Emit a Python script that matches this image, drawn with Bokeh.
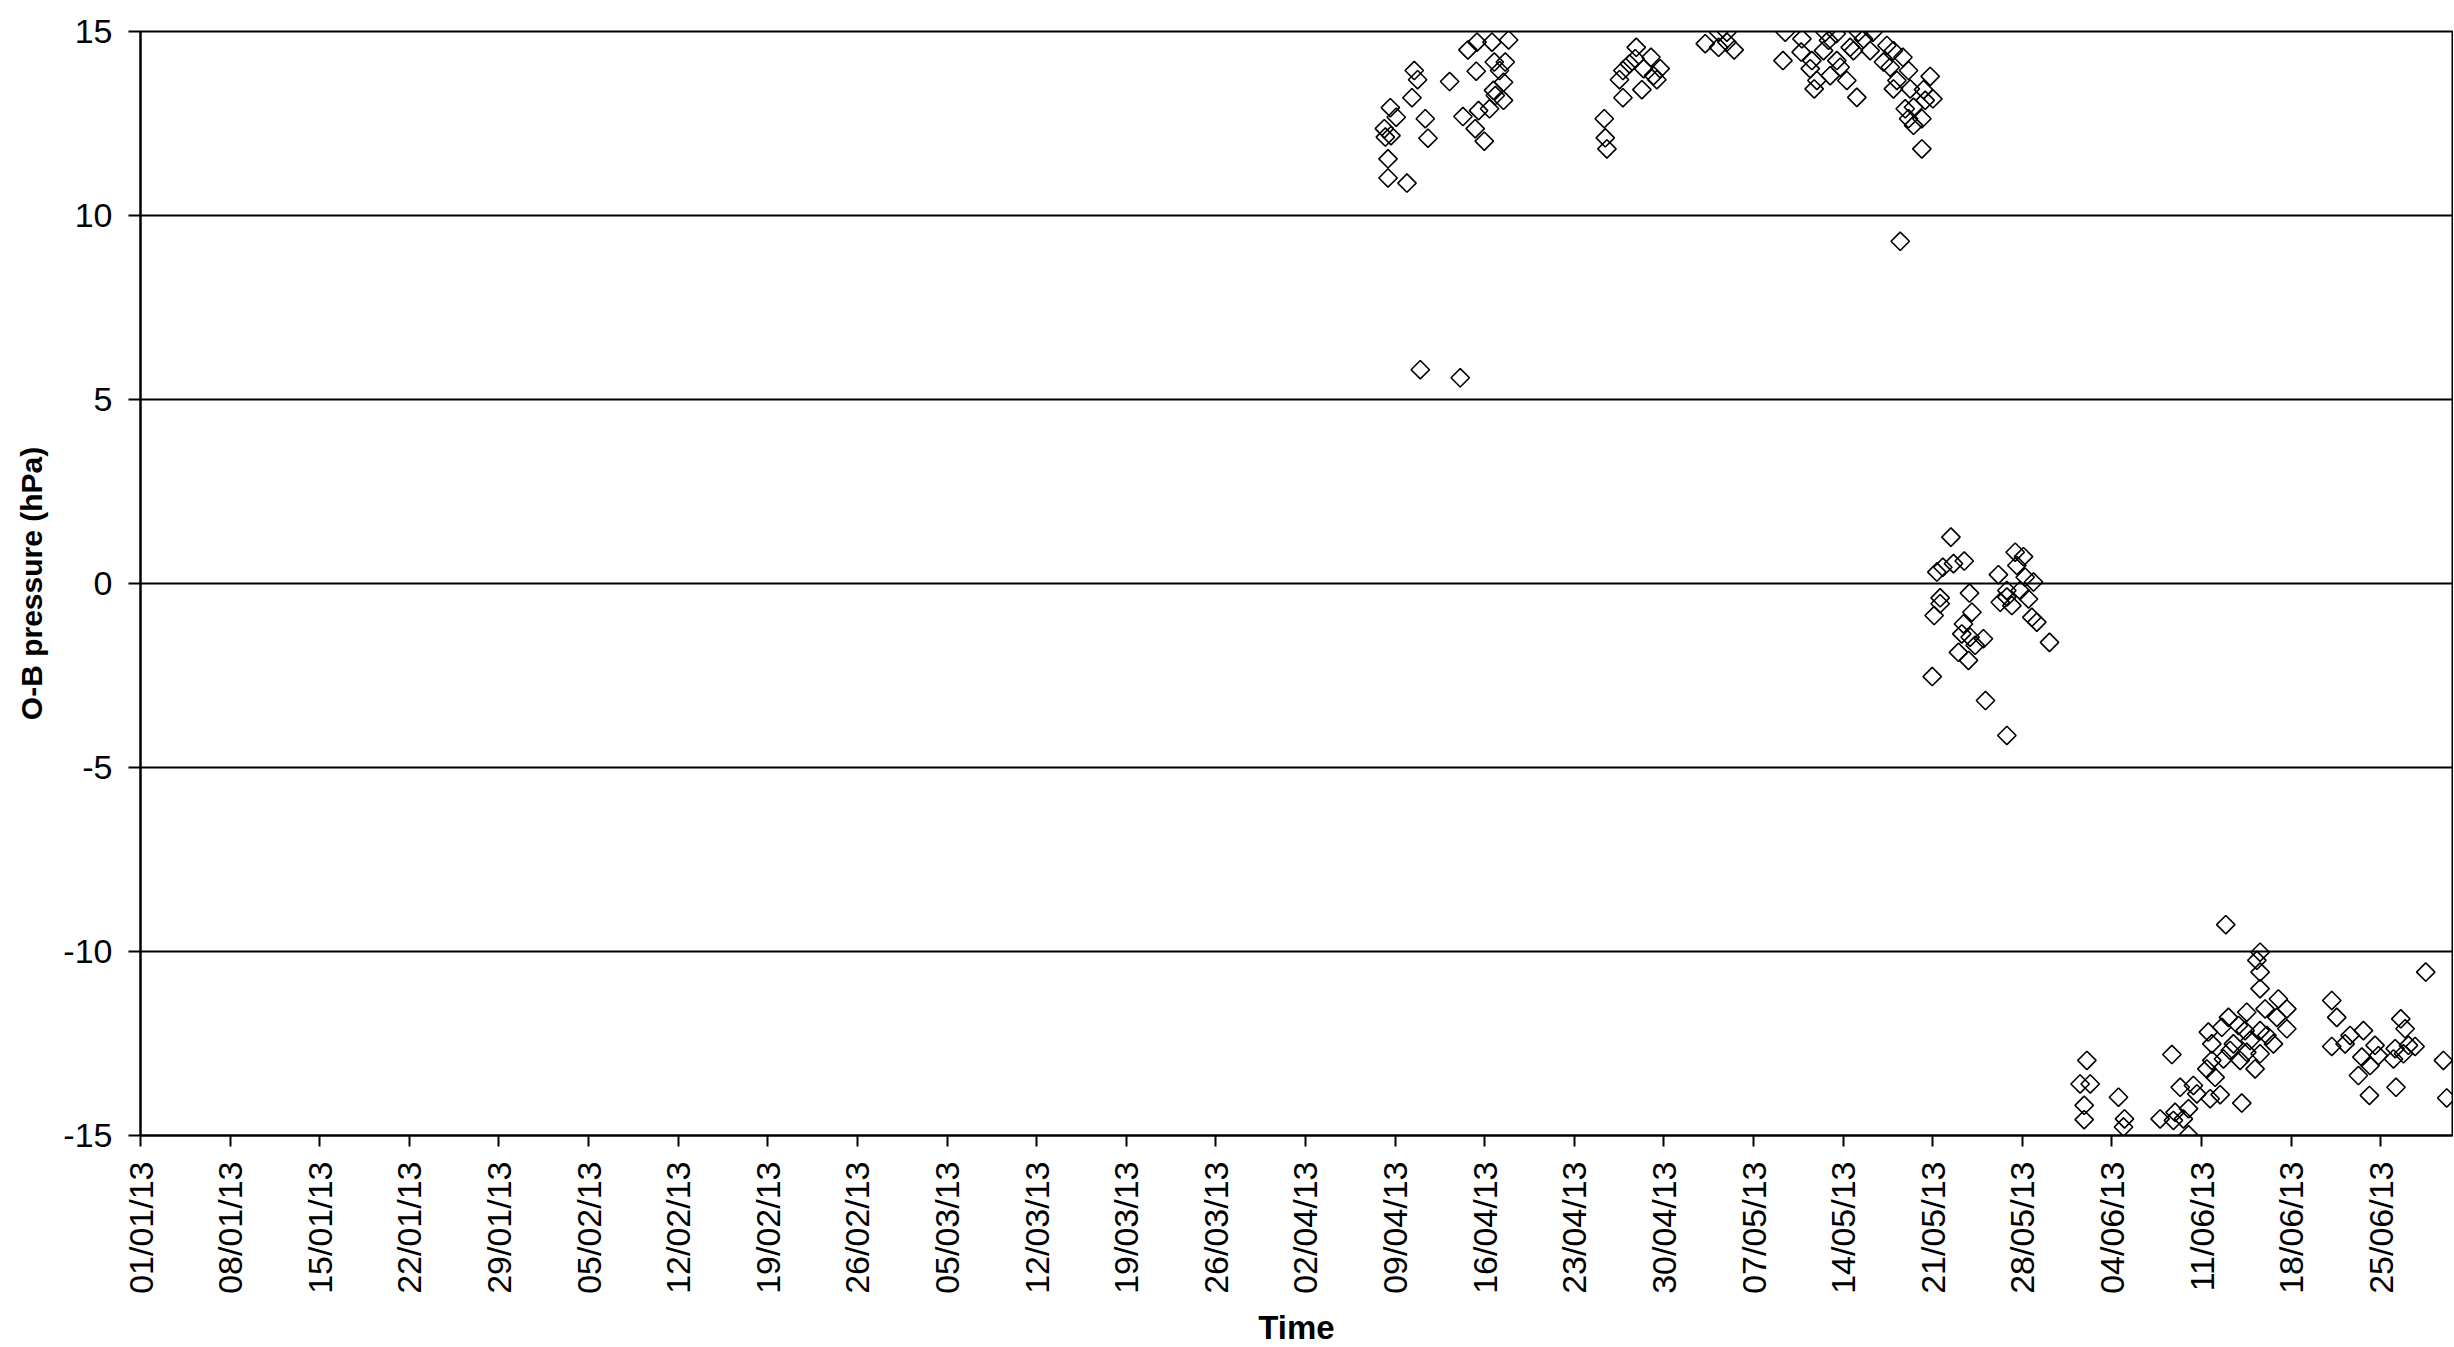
import numpy as np
from bokeh.plotting import figure
from bokeh.models import Range1d, FixedTicker
from bokeh.embed import file_html
from bokeh.resources import INLINE

# Observation time in days since 01/01/13 and O-B pressure (hPa)
obs_day = [
    # April, first group
    99.50, 99.76, 99.32, 97.63, 98.09, 97.16, 97.24, 97.68, 100.36, 100.57, 97.45, 97.45, 98.93, 99.97, 103.09, 102.26,
    # mid April
    103.69, 104.40, 105.57, 106.87, 104.34, 105.75, 106.61, 106.47, 105.69, 105.83, 106.47, 105.38, 104.52, 103.30, 104.26, 104.97, 106.16,
    # late April
    114.34, 114.42, 114.55, 115.80, 115.53, 115.80, 116.84, 116.76, 117.99, 118.71, 118.45, 117.28, 117.41, 116.31, 118.19,
    # early May
    122.23, 123.27, 123.92, 123.27, 124.49, 123.92,
    # mid May
    128.48, 128.30, 129.78, 129.72, 130.56, 130.43, 130.95, 130.74, 131.60, 131.86,
    132.46, 131.47, 131.99, 132.51, 132.77, 133.29, 133.55, 133.81, 134.07, 134.20,
    134.59, 135.32, 135.11, 136.15, 136.42, 136.93, 137.67, 136.68, 138.11, 137.20,
    136.93, 138.24, 139.80, 139.28, 140.01, 139.41, 137.85, 138.50, 139.15, 138.11,
    138.50, 139.15, 137.46,
    # late May
    141.42, 140.32, 140.79, 141.62, 142.46, 140.58, 140.58, 140.11, 142.87, 143.06,
    142.40, 142.27, 142.92, 143.96, 143.31, 142.01, 142.79, 139.96, 144.12, 145.79,
    146.44, 147.09, 146.57, 145.13, 147.22, 147.87, 145.79, 146.83, 145.27, 146.18,
    147.48, 147.74, 148.13, 149.12, 145.79,
    # June
    162.89, 165.57, 165.32, 165.57, 165.57, 178.51, 171.17, 171.56, 167.00, 167.66,
    166.88, 167.66, 165.96, 164.53, 163.10, 162.58, 163.88, 165.57, 166.61, 166.10,
    161.80, 163.49, 164.53, 165.57, 161.80, 162.71, 164.01, 165.18, 161.41, 162.06,
    158.68, 159.33, 160.36, 160.63, 161.67, 162.45, 164.14, 159.98, 158.93, 157.76,
    159.58, 158.80, 159.98, 152.04, 151.51, 152.30, 151.83, 151.83, 154.51, 154.98,
    154.90, 172.60, 173.64, 171.17, 172.21, 174.55, 173.52, 174.81, 174.16, 173.25,
    174.11, 176.56, 176.90, 176.12, 175.99, 177.16, 177.68, 176.77, 176.19, 179.89,
    180.15, 161.53, 164.79, 163.23, 164.40,
]

omb_hpa = [
    13.94, 13.69, 13.20, 12.93, 12.67, 12.36, 12.13, 12.17, 12.63, 12.10, 11.54, 11.02, 10.88, 5.81, 5.59, 13.64,
    14.50, 14.71, 14.71, 14.77, 13.92, 14.17, 14.17, 13.62, 13.40, 13.26, 13.13, 12.90, 12.85, 12.69, 12.36, 12.02, 13.94,
    12.63, 12.11, 11.81, 13.20, 13.69, 13.94, 14.57, 14.26, 14.30, 13.99, 13.69, 13.42, 13.99, 14.12, 13.80,
    14.67, 14.98, 14.98, 14.57, 14.50, 14.71,
    14.98, 14.21, 14.80, 14.44, 14.21, 13.99, 13.67, 13.44, 14.98, 14.76,
    14.94, 14.48, 13.80, 14.21, 14.03, 13.67, 14.57, 14.48, 13.21, 14.98,
    14.80, 14.98, 14.48, 14.17, 14.62, 14.48, 14.30, 14.03, 13.94, 13.67,
    13.44, 13.44, 13.78, 13.42, 13.17, 13.13, 12.90, 12.94, 12.63, 12.63,
    12.45, 11.81, 9.30,
    1.26, 0.31, 0.44, 0.54, 0.61, -0.39, -0.55, -0.87, -0.26, -0.78,
    -1.10, -1.37, -1.46, -1.50, -1.68, -1.87, -2.09, -2.53, -3.18, -4.13,
    0.85, 0.73, 0.49, 0.24, 0.17, 0.04, -0.19, -0.19, -0.51, -0.60,
    -0.42, -0.92, -1.05, -1.60, -0.37,
    -9.27, -10.02, -10.24, -10.56, -11.01, -10.56, -11.33, -11.79, -11.29, -11.56,
    -11.79, -12.10, -11.56, -11.65, -11.79, -12.06, -12.01, -12.15, -12.51, -12.28,
    -12.51, -12.51, -12.74, -12.78, -12.96, -12.92, -12.96, -13.19, -13.19, -13.42,
    -12.80, -13.69, -13.64, -13.87, -14.00, -13.89, -14.12, -14.27, -14.37, -14.55,
    -14.55, -14.59, -14.98, -12.96, -13.60, -13.60, -14.18, -14.57, -13.96, -14.55,
    -14.77, -12.28, -12.15, -12.58, -12.51, -12.55, -12.87, -12.83, -13.10, -13.37,
    -13.91, -11.83, -12.10, -12.64, -12.92, -12.55, -12.58, -12.78, -13.69, -12.96,
    -13.98, -12.19, -12.42, -12.69, -12.15,
]

tick_days = [0, 7, 14, 21, 28, 35, 42, 49, 56, 63, 70, 77, 84, 91, 98, 105,
             112, 119, 126, 133, 140, 147, 154, 161, 168, 175]
tick_labels = ["01/01/13", "08/01/13", "15/01/13", "22/01/13", "29/01/13", "05/02/13",
               "12/02/13", "19/02/13", "26/02/13", "05/03/13", "12/03/13", "19/03/13",
               "26/03/13", "02/04/13", "09/04/13", "16/04/13", "23/04/13", "30/04/13",
               "07/05/13", "14/05/13", "21/05/13", "28/05/13", "04/06/13", "11/06/13",
               "18/06/13", "25/06/13"]
y_ticks = [-15, -10, -5, 0, 5, 10, 15]
y_tick_labels = ["-15", "-10", "-5", "0", "5", "10", "15"]

assert len(obs_day) == len(omb_hpa)

FONT = "Liberation Sans"

p = figure(frame_width=2312, frame_height=1104,
           x_range=Range1d(0, 180.6), y_range=Range1d(-15, 15),
           output_backend="svg", toolbar_location=None,
           min_border_left=140, min_border_top=31, min_border_right=1, min_border_bottom=150,
           background_fill_color="white", border_fill_color="white")

p.outline_line_color = "black"
p.outline_line_width = 2

p.scatter(obs_day, omb_hpa, marker="square", angle=np.pi / 4, size=13,
          fill_alpha=0, line_color="black", line_width=1.6)

# x axis
p.xaxis.ticker = FixedTicker(ticks=tick_days)
p.xaxis.major_label_overrides = {d: lab for d, lab in zip(tick_days, tick_labels)}
p.xaxis.major_label_orientation = np.pi / 2
p.xaxis.minor_tick_line_color = None
p.xaxis.major_tick_out = 11
p.xaxis.major_tick_in = 0
p.xaxis.major_tick_line_width = 2
p.xaxis.major_tick_line_color = "black"
p.xaxis.axis_line_width = 2
p.xaxis.axis_line_color = "black"
p.xaxis.major_label_standoff = 15
p.xaxis.major_label_text_font = FONT
p.xaxis.major_label_text_font_size = "34px"
p.xaxis.major_label_text_color = "black"
p.xaxis.axis_label = "Time"
p.xaxis.axis_label_text_font = FONT
p.xaxis.axis_label_text_font_style = "bold"
p.xaxis.axis_label_text_font_size = "33px"
p.xaxis.axis_label_text_color = "black"
p.xaxis.axis_label_standoff = 12

# y axis
p.yaxis.ticker = FixedTicker(ticks=y_ticks)
p.yaxis.major_label_overrides = {v: lab for v, lab in zip(y_ticks, y_tick_labels)}
p.yaxis.minor_tick_line_color = None
p.yaxis.major_tick_out = 12
p.yaxis.major_tick_in = 0
p.yaxis.major_tick_line_width = 2
p.yaxis.major_tick_line_color = "black"
p.yaxis.axis_line_width = 2
p.yaxis.axis_line_color = "black"
p.yaxis.major_label_standoff = 16
p.yaxis.major_label_text_font = FONT
p.yaxis.major_label_text_font_size = "34px"
p.yaxis.major_label_text_color = "black"
p.yaxis.axis_label = "O-B pressure (hPa)"
p.yaxis.axis_label_text_font = FONT
p.yaxis.axis_label_text_font_style = "bold"
p.yaxis.axis_label_text_font_size = "30px"
p.yaxis.axis_label_text_color = "black"
p.yaxis.axis_label_standoff = 12

# grid
p.xgrid.visible = False
p.ygrid.ticker = FixedTicker(ticks=y_ticks)
p.ygrid.grid_line_color = "black"
p.ygrid.grid_line_width = 2

open("out.html", "w").write(file_html(p, INLINE))
